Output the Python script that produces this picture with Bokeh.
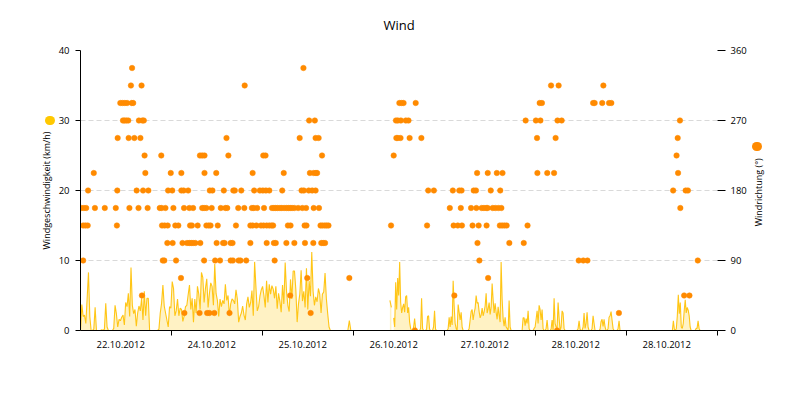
import numpy as np
from bokeh.plotting import figure
from bokeh.models import Range1d, LinearAxis, FixedTicker
from bokeh.embed import file_html
from bokeh.resources import INLINE

# ---------------- data ----------------
title_text = "Wind"
left_label = "Windgeschwindigkeit (km/h)"
right_label = "Windrichtung (°)"

# x axis: hours since start of the period (7 day bins of 24 h)
day_bounds = [24, 48, 72, 96, 120, 144, 168]
x_label_pos = [10.6, 34.6, 58.6, 82.6, 106.6, 130.6, 154.6]
x_labels = ["22.10.2012", "24.10.2012", "25.10.2012", "26.10.2012",
            "27.10.2012", "28.10.2012", "28.10.2012"]
speed_ticks = [0, 10, 20, 30, 40]
dir_ticks = [0, 90, 180, 270, 360]
speed_marker_at = [30]      # legend dot beside the left axis title
dir_marker_at = [237]       # legend dot beside the right axis title
dir_title_at = 134          # where the right axis title starts

# wind speed (km/h), measured segments (start hour, end hour, values)
speed_a_span = (0.0, 65.9)
speed_a = [0, 3.7, 2.0, 2.2, 1.0, 4.6, 8.3, 2.0, 0, 0, 0.2, 3.3, 0, 0, 0, 0, 0.1, 0, 0.2, 3.9,
           0.5, 0, 0, 0, 0, 0.3, 3.6, 2.4, 0.5, 1.6, 1.4, 1.9, 2.2, 0.8, 4.0, 3.4, 5.3, 2.0, 9.0, 3.6,
           2.4, 3.0, 0.6, 2.5, 3.5, 2.8, 4.6, 1.5, 5.6, 2.1, 4.6, 4.6, 0, 0, 0, 0, 0, 0, 0, 0.2,
           2.5, 3.9, 6.5, 3.5, 2.5, 1.5, 0.5, 3.4, 3.2, 7.0, 6.0, 2.1, 2.8, 4.5, 2.1, 3.2, 3.0, 1.3,
           2.1, 3.4, 3.6, 5.1, 6.5, 3.0, 4.6, 1.2, 4.5, 2.5, 6.3, 5.2, 3.0, 8.3, 7.6, 4.0, 6.0, 7.4,
           3.3, 5.3, 6.8, 6.3, 3.6, 9.5, 5.3, 4.3, 2.0, 4.5, 3.4, 4.3, 3.8, 6.6, 4.3, 5.0, 2.1, 3.8,
           4.5, 4.3, 3.8, 5.8, 4.5, 1.2, 2.0, 2.5, 3.5, 2.2, 1.5, 3.8, 4.8, 3.3, 4.0, 5.7, 2.1, 9.8,
           6.2, 2.8, 3.4, 4.9, 5.8, 6.3, 5.0, 3.3, 7.1, 4.0, 6.6, 5.2, 6.4, 5.9, 4.6, 6.3, 3.1, 5.3,
           4.2, 2.6, 6.5, 3.8, 9.7, 5.6, 3.6, 2.7, 7.3, 4.5, 8.5, 8.5, 5.9, 1.2, 3.8, 5.2, 8.6, 4.2,
           5.6, 3.3, 8.9, 3.0, 7.1, 4.9, 11.2, 5.6, 3.6, 4.8, 4.1, 6.0, 5.2, 2.5, 5.2, 5.5, 8.2, 4.5,
           2.4, 0.5, 0]
speed_b_span = (70.5, 71.3)
speed_b = [0, 1.4, 0]
speed_c_span = (81.6, 82.0)
speed_c = [4.3, 3.3]
speed_d_span = (82.6, 93.9)
speed_d = [1.8, 0.5, 6.9, 3.0, 7.5, 5.0, 9.8, 4.0, 2.5, 3.3, 3.8, 2.6, 4.8, 5.0, 2.5, 3.3, 1.2,
           0.3, 0, 0, 0.5, 1.7, 0.3, 0, 0, 0, 0, 0.3, 4.6, 0.3, 0, 0, 0, 0.2, 2.0, 2.1, 0.2, 0, 0,
           0, 0.5, 2.8, 0.2, 0]
speed_e_span = (96.7, 142.3)
speed_e = [0, 0.3, 1.9, 0.5, 2.0, 0.8, 7.1, 3.5, 1.0, 0.3, 0, 3.7, 2.6, 1.5, 2.6, 0.5, 0, 0, 0,
           0, 0, 0, 0.3, 1.5, 2.7, 3.0, 1.5, 2.5, 3.2, 5.0, 3.9, 4.0, 2.7, 1.8, 2.2, 3.2, 2.1, 2.7,
           3.5, 5.3, 2.5, 3.1, 4.0, 2.3, 3.3, 6.7, 4.4, 2.5, 3.9, 2.6, 1.6, 3.4, 2.2, 1.2, 9.8, 4.5,
           1.7, 0.6, 1.9, 0.5, 0.3, 0, 4.3, 0.5, 0, 0, 0, 0, 0, 0, 0, 0, 0, 0, 0, 0, 1.8, 1.8, 0.7,
           1.7, 1.0, 2.8, 0.3, 0, 0, 0, 0, 0.3, 0.5, 1.6, 2.8, 1.0, 3.6, 3.0, 1.5, 3.0, 0.3, 0, 0,
           0.3, 1.5, 0, 0, 0, 0.2, 1.5, 0, 4.6, 1.0, 0.5, 0.3, 4.0, 1.8, 0, 0.5, 2.8, 2.5, 0.3, 0,
           0, 0, 0, 0, 0, 0, 0, 0, 0, 0, 0, 0, 0.3, 1.4, 0.2, 0, 0, 0.5, 2.5, 0.3, 1.0, 2.6, 0.5,
           0, 0, 0, 0.3, 2.1, 1.0, 0, 0, 0, 0, 0, 0.2, 1.3, 1.6, 0.6, 1.6, 0.5, 0, 0, 0.3, 1.9,
           2.1, 2.7, 1.5, 0.3, 0, 0, 0, 0, 0.3, 1.4, 0]
speed_f_span = (156.1, 163.4)
speed_f = [0, 1.4, 0.2, 0, 0.3, 2.1, 5.1, 2.4, 4.0, 0.5, 0.3, 1.0, 2.9, 4.4, 2.5, 3.3, 2.9, 2.1,
           0.5, 0, 0, 0, 0, 0, 0.3, 0.3, 1.4, 0.3, 0]

# wind direction (degrees): hours at which each direction was recorded
dir_h_337_5 = [13.6, 58.8]
dir_h_315 = [13.3, 16.1, 43.3, 124.1, 126.1, 137.9]
dir_h_292_5 = [10.5, 11.1, 11.7, 12.3, 13.5, 13.9, 84.1, 84.7, 85.2, 88.4, 121.1, 121.7,
               135.2, 135.6, 137.6, 139.4, 140.0]
dir_h_270 = [11.2, 11.6, 12.1, 12.6, 15.4, 16.3, 16.7, 60.3, 61.8, 83.2, 83.7, 84.5, 85.8,
             86.5, 117.4, 120.1, 121.3, 125.8, 126.9, 158.1]
dir_h_247_5 = [9.8, 12.7, 14.2, 15.8, 38.5, 57.8, 62.0, 62.8, 83.3, 83.7, 84.4, 86.8, 89.9,
               120.4, 125.3, 157.5]
dir_h_225 = [16.9, 21.3, 31.5, 32.1, 32.7, 39.0, 48.2, 48.8, 63.7, 82.6, 157.2]
dir_h_202_5 = [3.5, 17.1, 23.8, 26.6, 32.7, 35.8, 45.4, 53.6, 60.5, 61.5, 62.1, 62.4, 104.6,
               107.4, 109.8, 111.3, 120.5, 123.1, 124.9, 157.6]
dir_h_180 = [2.0, 9.7, 14.8, 16.5, 17.9, 23.1, 24.2, 26.6, 27.2, 28.4, 34.1, 34.8, 37.8, 40.3,
             40.7, 42.4, 45.8, 47.3, 48.1, 48.9, 49.8, 53.2, 58.3, 58.9, 60.2, 61.1, 62.0, 91.7,
             93.2, 98.2, 99.9, 100.5, 103.7, 104.3, 108.2, 110.7, 156.3, 159.6, 160.2]
dir_h_157_5 = [0.2, 0.9, 1.5, 3.8, 6.4, 9.3, 12.9, 15.3, 17.7, 20.9, 21.4, 22.4, 24.5, 27.3,
               28.7, 29.7, 32.1, 32.6, 33.2, 34.6, 37.0, 38.2, 38.7, 41.6, 43.2, 45.2, 45.7, 46.6,
               48.4, 50.5, 51.0, 51.5, 52.0, 52.6, 53.1, 53.7, 54.3, 54.8, 55.3, 55.8, 56.4, 57.4,
               58.5, 59.5, 61.5, 62.9, 97.4, 100.3, 103.0, 104.4, 105.8, 106.4, 107.0, 107.4,
               108.7, 109.4, 110.2, 111.0, 158.2]
dir_h_135 = [0.7, 1.3, 1.9, 9.6, 21.5, 22.2, 23.0, 25.0, 25.8, 28.9, 29.4, 30.9, 33.2, 33.8,
             34.3, 36.2, 41.0, 44.8, 45.4, 46.4, 47.6, 48.3, 49.1, 49.8, 50.4, 50.8, 54.7, 55.4,
             59.1, 59.6, 63.3, 63.8, 64.4, 64.9, 65.4, 81.9, 91.4, 98.4, 99.5, 100.6, 103.4,
             105.0, 107.1, 110.6, 111.2, 111.8, 112.4, 117.9]
dir_h_112_5 = [22.9, 24.3, 26.9, 28.1, 28.7, 29.2, 29.7, 30.3, 31.6, 35.9, 37.6, 38.0, 39.6,
               40.1, 44.8, 49.1, 51.0, 51.5, 54.3, 56.4, 59.2, 61.4, 63.5, 64.0, 64.5, 104.7,
               113.1, 116.9]
dir_h_90 = [0.7, 21.7, 22.1, 25.2, 32.6, 35.5, 36.8, 39.6, 40.2, 41.7, 42.2, 43.7, 51.2, 105.2,
            131.4, 132.6, 133.7, 162.8]
dir_h_67_5 = [26.5, 59.8, 70.9, 107.5]
dir_h_45 = [16.2, 55.3, 98.6, 159.2, 160.6]
dir_h_22_5 = [27.4, 31.4, 33.4, 34.0, 35.3, 39.3, 60.7, 142.0]
dir_h_0 = [88.2, 125.7]

# ---------------- styles ----------------
FONT = "Open Sans"
SPEED_LINE = "#ffc000"
SPEED_FILL = "#ffd02a"
SPEED_DOT = "#ffc800"
DIR_COLOR = "#ff8a00"
GRID = "#d9d9d9"

W, H = 790, 392
ML, MT = 80, 50
MR = W - 717
MB = H - MT - 280

p = figure(width=W, height=H, output_backend="svg", toolbar_location=None,
           x_range=Range1d(0, 168), y_range=Range1d(0, 40),
           min_border_left=ML, min_border_right=MR, min_border_top=MT, min_border_bottom=MB)
p.title.text = title_text
p.title.align = "center"
p.title.text_font = FONT
p.title.text_font_size = "13px"
p.title.text_font_style = "normal"
p.title.text_color = "black"
p.title.vertical_align = "top"
p.title.standoff = 29
p.outline_line_color = None
p.background_fill_color = "white"
p.border_fill_color = "white"
p.extra_y_ranges = {"dir": Range1d(0, 360)}

# speed segments
segments = [(speed_a_span, speed_a), (speed_b_span, speed_b), (speed_c_span, speed_c),
            (speed_d_span, speed_d), (speed_e_span, speed_e), (speed_f_span, speed_f)]
for (h0, h1), vals in segments:
    xs = np.linspace(h0, h1, len(vals))
    ys = np.array(vals, dtype=float)
    p.varea(x=xs, y1=np.zeros_like(ys), y2=ys, fill_color=SPEED_FILL, fill_alpha=0.28)
    p.line(x=xs, y=ys, line_color=SPEED_LINE, line_width=1.1, line_alpha=0.9)

# direction dots
dir_groups = [(337.5, dir_h_337_5), (315, dir_h_315), (292.5, dir_h_292_5), (270, dir_h_270),
              (247.5, dir_h_247_5), (225, dir_h_225), (202.5, dir_h_202_5), (180, dir_h_180),
              (157.5, dir_h_157_5), (135, dir_h_135), (112.5, dir_h_112_5), (90, dir_h_90),
              (67.5, dir_h_67_5), (45, dir_h_45), (22.5, dir_h_22_5), (0, dir_h_0)]
dx, dy = [], []
for deg, hs in dir_groups:
    dx.extend(hs)
    dy.extend([deg] * len(hs))
p.scatter(x=dx, y=dy, y_range_name="dir", size=5.5, fill_color=DIR_COLOR,
          line_color=DIR_COLOR, line_width=0.5)

# ---- x axis
xa = p.xaxis[0]
xa.ticker = FixedTicker(ticks=x_label_pos, minor_ticks=day_bounds)
xa.major_label_overrides = {k: v for k, v in zip(x_label_pos, x_labels)}
xa.major_tick_line_color = None
xa.major_tick_out = 5
xa.major_tick_in = 0
xa.minor_tick_out = 5
xa.minor_tick_in = 0
xa.minor_tick_line_color = "black"
xa.axis_line_color = "black"
xa.major_label_standoff = 5

# ---- left speed axis
ya = p.yaxis[0]
ya.ticker = FixedTicker(ticks=speed_ticks)
ya.major_tick_out = 5
ya.major_tick_in = 0
ya.minor_tick_line_color = None
ya.axis_line_color = "black"
ya.major_tick_line_color = "black"
ya.major_label_standoff = 6

# ---- right direction axis
ra = LinearAxis(y_range_name="dir", ticker=FixedTicker(ticks=dir_ticks))
ra.axis_line_color = None
ra.major_tick_out = 8
ra.major_tick_in = 0
ra.minor_tick_line_color = None
ra.major_tick_line_color = "black"
ra.major_label_standoff = 5
p.add_layout(ra, "right")

for ax in (xa, ya, ra):
    ax.major_label_text_font = FONT
    ax.major_label_text_font_size = "9.5px"
    ax.major_label_text_color = "black"

# ---- left series title with a coloured series dot (dot drawn as a round tick)
la = LinearAxis(ticker=FixedTicker(ticks=speed_marker_at))
la.axis_line_color = None
la.minor_tick_line_color = None
la.major_label_text_font_size = "0px"
la.major_label_text_alpha = 0
la.major_label_standoff = 0
la.major_tick_line_color = SPEED_DOT
la.major_tick_line_width = 9
la.major_tick_line_cap = "round"
la.major_tick_in = -5
la.major_tick_out = 6
la.axis_label = left_label
la.axis_label_text_font = FONT
la.axis_label_text_font_size = "9px"
la.axis_label_text_font_style = "normal"
la.axis_label_text_color = "black"
la.axis_label_standoff = -3
p.add_layout(la, "left")

# ---- right series title: text as rotated tick label, dot as round minor tick
rb = LinearAxis(y_range_name="dir",
                ticker=FixedTicker(ticks=[dir_title_at], minor_ticks=dir_marker_at))
rb.axis_line_color = None
rb.major_tick_line_color = None
rb.major_tick_in = 0
rb.major_tick_out = 0
rb.minor_tick_line_color = DIR_COLOR
rb.minor_tick_line_width = 9
rb.minor_tick_line_cap = "round"
rb.minor_tick_in = -7
rb.minor_tick_out = 8
rb.major_label_overrides = {dir_title_at: right_label}
rb.major_label_orientation = np.pi / 2
rb.major_label_standoff = 1
rb.major_label_text_font = FONT
rb.major_label_text_font_size = "9px"
rb.major_label_text_color = "black"
p.add_layout(rb, "right")

p.xgrid.grid_line_color = None
p.ygrid.ticker = FixedTicker(ticks=speed_ticks)
p.ygrid.grid_line_color = GRID
p.ygrid.grid_line_dash = "5 3"
p.ygrid.grid_line_width = 1

open("out.html", "w").write(file_html(p, INLINE))
